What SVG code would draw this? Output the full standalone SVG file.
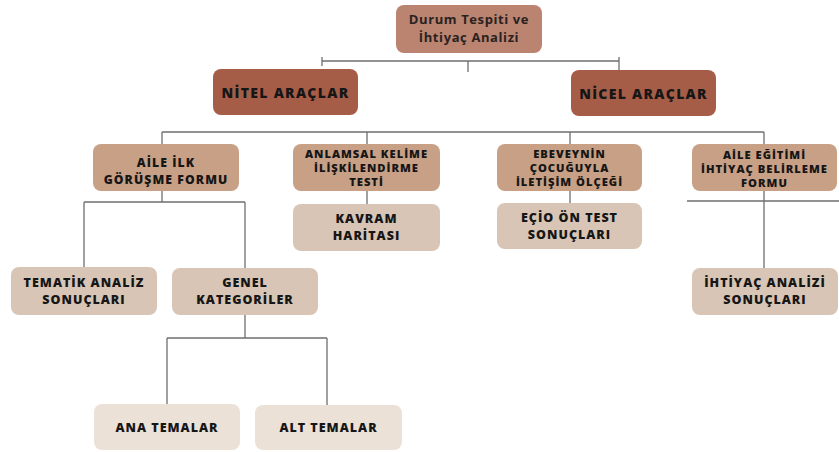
<svg xmlns="http://www.w3.org/2000/svg" width="839" height="452" viewBox="0 0 839 452">
<style>
.ln{stroke:#6f6f6f;stroke-width:1.3;fill:none}
.c0{fill:#bb8470}
.c1{fill:#a65d48}
.c2{fill:#c8a085}
.c3{fill:#d8c5b5}
.c4{fill:#ebe1d7}
text{font-family:"Open Sans","Liberation Sans",sans-serif;font-weight:800;fill:#161616;text-anchor:middle}
.t0{font-size:13px;font-weight:700;fill:#2a2220;letter-spacing:0.6px}
.t1{font-size:14px;letter-spacing:1.3px}
.t2{font-size:11.2px;letter-spacing:1px}
.t2b{font-size:12.2px;letter-spacing:1.1px}
.t3{font-size:12.5px;letter-spacing:1px}
</style>
<rect width="839" height="452" fill="#ffffff"/>
<g id="connectors">
<path class="ln" d="M322 61H619M322 57V66M468 61V72M619 57V70"/>
<path class="ln" d="M162 132H764M162 132V144M367 132V144M570 132V144M764 132V144"/>
<path class="ln" d="M367 191V204M570 191V203"/>
<path class="ln" d="M687 201H839M764 191V268"/>
<path class="ln" d="M162 191V202M84 202H245M84 202V267M245 202V268"/>
<path class="ln" d="M245 315V338M167 338H327M167 338V404M327 338V405"/>
</g>
<g id="root"><rect class="c0" x="396" y="5" width="146" height="48" rx="8"/><text class="t0" x="469" y="24">Durum Tespiti ve</text><text class="t0" x="469" y="42">İhtiyaç Analizi</text></g>
<g id="nitel"><rect class="c1" x="213" y="69" width="145" height="46" rx="8"/><text class="t1" x="285.5" y="98">NİTEL ARAÇLAR</text></g>
<g id="nicel"><rect class="c1" x="571" y="70" width="145" height="46" rx="8"/><text class="t1" x="643.5" y="99">NİCEL ARAÇLAR</text></g>
<g id="aile-ilk"><rect class="c2" x="93" y="144" width="146" height="47" rx="8"/><text class="t2b" x="166" y="167">AİLE İLK</text><text class="t2b" x="166" y="184">GÖRÜŞME FORMU</text></g>
<g id="anlamsal"><rect class="c2" x="293" y="144" width="147" height="47" rx="8"/><text class="t2" x="366.5" y="158">ANLAMSAL KELİME</text><text class="t2" x="366.5" y="172">İLİŞKİLENDİRME</text><text class="t2" x="366.5" y="186">TESTİ</text></g>
<g id="ebeveynin"><rect class="c2" x="497" y="144" width="145" height="47" rx="8"/><text class="t2" x="569.5" y="158">EBEVEYNİN</text><text class="t2" x="569.5" y="172">ÇOCUĞUYLA</text><text class="t2" x="569.5" y="186">İLETİŞİM ÖLÇEĞİ</text></g>
<g id="aile-egitimi"><rect class="c2" x="692" y="144" width="145" height="47" rx="8"/><text class="t2" x="764.5" y="159">AİLE EĞİTİMİ</text><text class="t2" x="764.5" y="173">İHTİYAÇ BELİRLEME</text><text class="t2" x="764.5" y="187">FORMU</text></g>
<g id="kavram"><rect class="c3" x="293" y="204" width="147" height="47" rx="8"/><text class="t3" x="366.5" y="223">KAVRAM</text><text class="t3" x="366.5" y="240">HARİTASI</text></g>
<g id="ecio"><rect class="c3" x="497" y="203" width="145" height="46" rx="8"/><text class="t3" x="569.5" y="222">EÇİO ÖN TEST</text><text class="t3" x="569.5" y="239">SONUÇLARI</text></g>
<g id="tematik"><rect class="c3" x="11" y="267" width="146" height="48" rx="8"/><text class="t3" x="84" y="287">TEMATİK ANALİZ</text><text class="t3" x="84" y="304">SONUÇLARI</text></g>
<g id="genel"><rect class="c3" x="172" y="268" width="146" height="47" rx="8"/><text class="t3" x="245" y="287">GENEL</text><text class="t3" x="245" y="304">KATEGORİLER</text></g>
<g id="ihtiyac"><rect class="c3" x="692" y="268" width="146" height="47" rx="8"/><text class="t3" x="765" y="287">İHTİYAÇ ANALİZİ</text><text class="t3" x="765" y="304">SONUÇLARI</text></g>
<g id="ana"><rect class="c4" x="94" y="404" width="146" height="46" rx="8"/><text class="t3" x="167" y="432">ANA TEMALAR</text></g>
<g id="alt"><rect class="c4" x="255" y="405" width="147" height="45" rx="8"/><text class="t3" x="328.5" y="432">ALT TEMALAR</text></g>
</svg>
